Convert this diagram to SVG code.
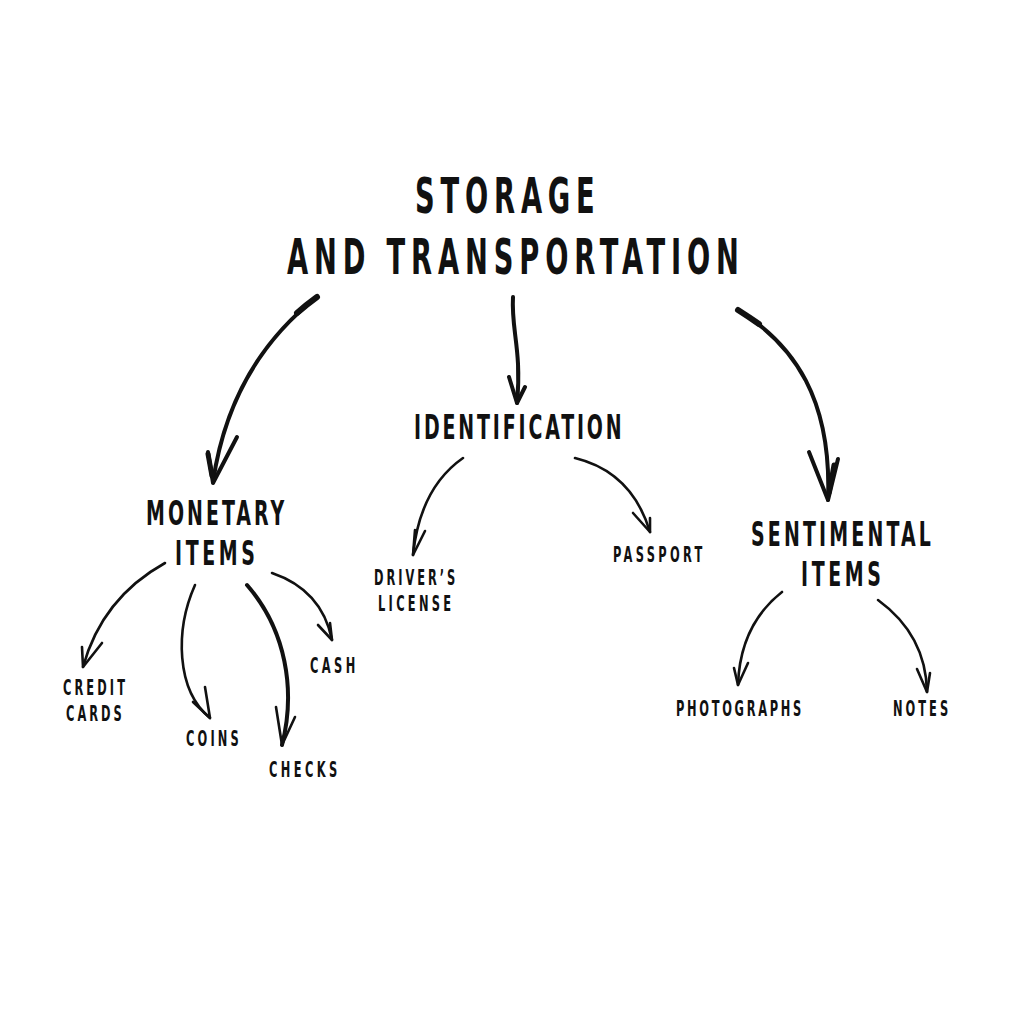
<svg xmlns="http://www.w3.org/2000/svg" width="1024" height="1024" viewBox="0 0 1024 1024">
<style>
text{font-family:"DejaVu Sans Condensed","DejaVu Sans","Liberation Sans",sans-serif;font-weight:bold;fill:#111;}
.t1{font-size:49px;}
.t2{font-size:34px;}
.t3{font-size:20.5px;}
.ln{fill:none;stroke:#111;stroke-linecap:round;stroke-linejoin:round;}
.m{stroke-width:4;}
.s{stroke-width:2.6;}
</style>
<rect width="1024" height="1024" fill="#fff"/>
<g id="title">
<g transform="translate(415,213) scale(0.62,1)"><text class="t1" x="0" y="0" textLength="290" lengthAdjust="spacing">STORAGE</text></g>
<g transform="translate(287,274) scale(0.62,1)"><text class="t1" x="0" y="0" textLength="729" lengthAdjust="spacing">AND TRANSPORTATION</text></g>
</g>
<g id="identification"><g transform="translate(414,439) scale(0.62,1)"><text class="t2" x="0" y="0" textLength="335" lengthAdjust="spacing">IDENTIFICATION</text></g></g>
<g id="monetary">
<g transform="translate(146,525) scale(0.62,1)"><text class="t2" x="0" y="0" textLength="223" lengthAdjust="spacing">MONETARY</text></g>
<g transform="translate(175,565) scale(0.62,1)"><text class="t2" x="0" y="0" textLength="129" lengthAdjust="spacing">ITEMS</text></g>
</g>
<g id="sentimental">
<g transform="translate(751,546) scale(0.62,1)"><text class="t2" x="0" y="0" textLength="290" lengthAdjust="spacing">SENTIMENTAL</text></g>
<g transform="translate(801,586) scale(0.62,1)"><text class="t2" x="0" y="0" textLength="129" lengthAdjust="spacing">ITEMS</text></g>
</g>
<g id="drivers">
<g transform="translate(374,585) scale(0.62,1)"><text class="t3" x="0" y="0" textLength="131" lengthAdjust="spacing">DRIVER’S</text></g>
<g transform="translate(378,611) scale(0.62,1)"><text class="t3" x="0" y="0" textLength="118" lengthAdjust="spacing">LICENSE</text></g>
</g>
<g id="passport"><g transform="translate(613,562) scale(0.62,1)"><text class="t3" x="0" y="0" textLength="144" lengthAdjust="spacing">PASSPORT</text></g></g>
<g id="credit">
<g transform="translate(63,695) scale(0.62,1)"><text class="t3" x="0" y="0" textLength="100" lengthAdjust="spacing">CREDIT</text></g>
<g transform="translate(66,721) scale(0.62,1)"><text class="t3" x="0" y="0" textLength="90" lengthAdjust="spacing">CARDS</text></g>
</g>
<g id="coins"><g transform="translate(186,746) scale(0.62,1)"><text class="t3" x="0" y="0" textLength="85" lengthAdjust="spacing">COINS</text></g></g>
<g id="checks"><g transform="translate(269,777) scale(0.62,1)"><text class="t3" x="0" y="0" textLength="110" lengthAdjust="spacing">CHECKS</text></g></g>
<g id="cash"><g transform="translate(310,673) scale(0.62,1)"><text class="t3" x="0" y="0" textLength="73" lengthAdjust="spacing">CASH</text></g></g>
<g id="photographs"><g transform="translate(676,716) scale(0.62,1)"><text class="t3" x="0" y="0" textLength="202" lengthAdjust="spacing">PHOTOGRAPHS</text></g></g>
<g id="notes"><g transform="translate(893,716) scale(0.62,1)"><text class="t3" x="0" y="0" textLength="89" lengthAdjust="spacing">NOTES</text></g></g>
<g id="connectors">
<path class="ln m" d="M317,297 Q230,365 213,482"/>
<path class="ln" stroke-width="6" d="M317,297 Q306,305 297,313"/>
<path class="ln m" d="M208,452 L213,483 L237,437"/>
<path class="ln" stroke-width="5" d="M208,454 L212,476"/>
<path class="ln m" d="M513,297 C511,330 522,350 517,403"/>
<path class="ln m" d="M509,377 L517,403 L525,387"/>
<path class="ln m" d="M738,310 C795,345 832,400 828,500"/>
<path class="ln" stroke-width="6" d="M738,310 Q749,317 759,324"/>
<path class="ln m" d="M809,452 L828,500 L838,459"/>
<path class="ln" stroke-width="5" d="M834,465 L829,493"/>
<path class="ln s" d="M463,458 Q420,488 413,555"/>
<path class="ln s" d="M415,530 L413,555 L425,531"/>
<path class="ln s" d="M575,458 Q632,472 650,532"/>
<path class="ln s" d="M633,513 L650,532 L650,518"/>
<path class="ln s" d="M165,563 Q102,598 83,667"/>
<path class="ln s" d="M82,647 L83,667 L102,643"/>
<path class="ln s" d="M195,585 C175,630 176,690 210,718"/>
<path class="ln s" d="M193,702 L210,718 L205,687"/>
<path class="ln" stroke-width="4" d="M247,585 C286,630 296,690 282,745"/>
<path class="ln s" d="M276,707 L282,745 L295,717"/>
<path class="ln s" d="M272,573 Q322,590 332,640"/>
<path class="ln s" d="M318,625 L332,640 L330,623"/>
<path class="ln s" d="M782,592 Q740,625 738,685"/>
<path class="ln s" d="M734,668 L738,685 L748,663"/>
<path class="ln s" d="M878,600 Q926,635 927,692"/>
<path class="ln s" d="M917,669 L927,692 L930,673"/>
</g>
</svg>
